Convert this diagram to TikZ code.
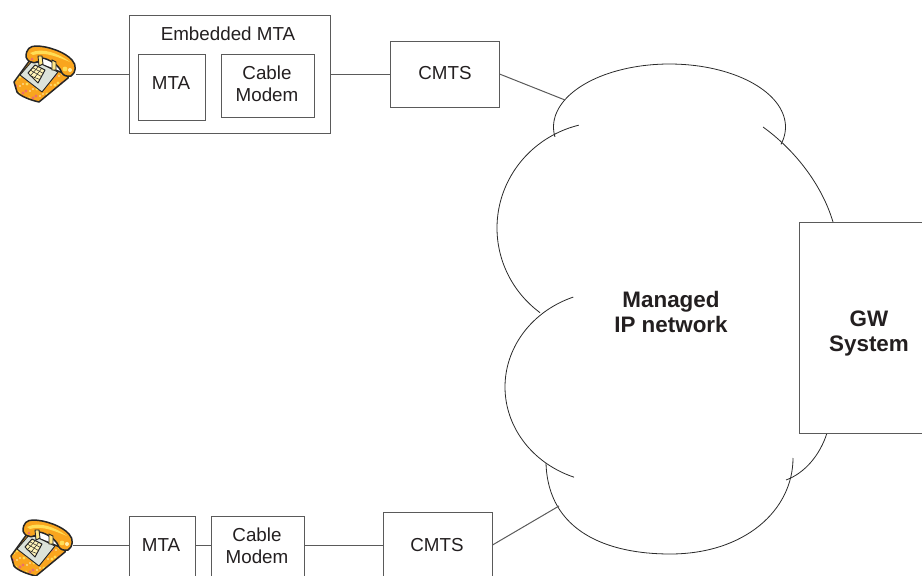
\documentclass[tikz,border=0pt]{standalone}
\usepackage{fontspec}
\setmainfont{Liberation Sans}
\definecolor{edgegray}{HTML}{5A5A5A}
\definecolor{cloudline}{HTML}{2A2A2A}
\definecolor{phoneorange}{HTML}{F9A51E}
\definecolor{phoneyellow}{HTML}{FFDD55}
\definecolor{phonepink}{HTML}{EC6F6A}
\definecolor{phoneplate}{HTML}{DCE3DA}
\definecolor{phonekey}{HTML}{FFF4B8}
\definecolor{inktext}{HTML}{231F20}
\tikzset{
  x=1pt,y=-1pt,
  boxnode/.style={draw=edgegray,line width=1pt,inner sep=0pt,text=inktext,font=\fontsize{18.8}{22}\selectfont,align=center},
  label18/.style={inner sep=0pt,text=inktext,font=\fontsize{18.8}{22}\selectfont,align=center},
  boldlabel/.style={inner sep=0pt,text=inktext,font=\fontsize{22.4}{25}\selectfont\bfseries,align=center},
  wire/.style={draw=edgegray,line width=1pt},
  cloudarc/.style={draw=cloudline,line width=0.8pt},
  phoneink/.style={draw=black!85,line width=1.5pt,line join=round},
  telephone/.pic={
    % base
    \path[fill=phoneorange] (14,82) -- (30,60) -- (68,75) -- (68,78) -- (39,102) .. controls (30,100) and (20,96) .. (17,92) -- cycle;
    \begin{scope}
      \clip (14,82) -- (30,60) -- (68,75) -- (68,78) -- (39,102) -- (17,92) -- cycle;
      \foreach \i in {1,...,90}{
        \pgfmathsetmacro{\px}{12+mod(\i*23,59)}
        \pgfmathsetmacro{\py}{58+mod(\i*17,46)}
        \pgfmathtruncatemacro{\k}{mod(\i,3)}
        \ifnum\k=0 \fill[phonepink] (\px,\py) circle (1.6);\fi
        \ifnum\k=1 \fill[phoneyellow] (\px,\py) circle (1.7);\fi
        \ifnum\k=2 \fill[white!60!phoneyellow] (\px,\py) circle (0.9);\fi
      }
    \end{scope}
    \path[phoneink] (14,82) -- (30,60) -- (68,75) -- (68,78) -- (39,102) .. controls (30,100) and (20,96) .. (17,92) -- cycle;
    % plate
    \path[draw=black!85,line width=0.9pt,line join=round,fill=phoneplate] (20,75) -- (33,60) -- (58,72) -- (42,92) -- cycle;
    % keypad
    \path[draw=black!85,line width=1pt,line join=round,fill=phonekey] (28,73) -- (35,65) -- (45,70) -- (38,83) -- cycle;
    \draw[black!85,line width=0.5pt] (30.5,70.2) -- (41.5,76.6) (32.7,67.7) -- (43.2,73.3) (29.5,75.5) -- (39.8,79.5);
    \draw[black!85,line width=0.5pt] (31,75) -- (38.3,66.7) (34.3,78) -- (41.7,68.3);
    % handset
    \path[phoneink,fill=phoneorange] (26,57) .. controls (26,49) and (30,46) .. (36,46)
      .. controls (48,46) and (65,52) .. (72,60)
      .. controls (77,65) and (76,73) .. (71,76)
      .. controls (66,77) and (62,75) .. (61,71)
      .. controls (59,66) and (50,59) .. (42,58)
      .. controls (39,64) and (29,65) .. (26,57) -- cycle;
    \fill[phoneyellow] (30,53) .. controls (42,47) and (58,53) .. (70,62) .. controls (60,58) and (45,51) .. (33,55) -- cycle;
    \fill[phoneyellow] (65,69) circle (2.4);
    \fill[white!50!phoneyellow] (70,70) circle (2);
    \fill[phonepink] (32,59) circle (1.5);
    % cradle posts
    \path[draw=black!85,line width=0.9pt,fill=white!30!phoneyellow] (38,56) -- (42,56) -- (43,64) -- (39,66) -- cycle;
    \path[draw=black!85,line width=0.9pt,fill=white!30!phoneyellow] (52,60) -- (56,62) -- (56,70) -- (52,70) -- cycle;
  }
}
\begin{document}
\begin{tikzpicture}
\useasboundingbox (0,0) rectangle (922,576);
\clip (0,0) rectangle (922,576);

% cloud outline arcs
\draw[cloudarc] plot[domain=171:376,samples=80] ({669.5+116*cos(\x)},{127+63*sin(\x)});
\draw[cloudarc] (763,127) .. controls (795,150) and (822,185) .. (833,222);
\draw[cloudarc] plot[domain=256:127,samples=70] ({605+108*cos(\x)},{228+106*sin(\x)});
\draw[cloudarc] plot[domain=249.5:110,samples=70] ({610+105*cos(\x)},{387+96*sin(\x)});
\draw[cloudarc] (546,463) .. controls (548,532) and (608,554) .. (670,554) .. controls (745,554) and (793,510) .. (793,458);
\draw[cloudarc] (827,433) .. controls (820,455) and (805,473) .. (786,480);

% cloud connection points and phone ports
\coordinate (cloudtop) at (565,100);
\coordinate (cloudbot) at (559,506);
\coordinate (phoneA) at (76,74);
\coordinate (phoneB) at (73,545);

% top row
\node[boxnode,minimum width=201,minimum height=118] (emta) at (229.5,74) {};
\node[label18] (emtalabel) at (228,34) {Embedded MTA};
\node[boxnode,minimum width=67,minimum height=66] (mtaA) at (171.5,87) {};
\node[label18] (mtaAlabel) at (171,83) {MTA};
\node[boxnode,minimum width=93,minimum height=63] (cmA) at (267.5,85.5) {};
\node[label18] (cmAlabel) at (267,84) {Cable\\Modem};
\node[boxnode,minimum width=109,minimum height=66] (cmtsA) at (444.5,74) {};
\node[label18] (cmtsAlabel) at (445,73) {CMTS};

% bottom row
\node[boxnode,minimum width=66,minimum height=80] (mtaB) at (162,556) {};
\node[label18] (mtaBlabel) at (161,545) {MTA};
\node[boxnode,minimum width=93,minimum height=80] (cmB) at (257.5,556) {};
\node[label18] (cmBlabel) at (257,545.5) {Cable\\Modem};
\node[boxnode,minimum width=109,minimum height=84] (cmtsB) at (437.5,554) {};
\node[label18] (cmtsBlabel) at (437,545) {CMTS};

% gateway
\node[boxnode,fill=white,minimum width=140,minimum height=211] (gw) at (869,327.5) {};
\node[boldlabel] (gwlabel) at (869,333.5) {GW\\System};
\node[boldlabel] (iplabel) at (671,311.5) {Managed\\IP network};

% connectors
\draw[wire] (phoneA) -- (emta.west |- phoneA);
\draw[wire] (emta.east) -- (cmtsA.west);
\draw[wire] (cmtsA.east) -- (cloudtop);
\draw[wire] (phoneB) -- (mtaB.west |- phoneB);
\draw[wire] (mtaB.east |- phoneB) -- (cmB.west |- phoneB);
\draw[wire] (cmB.east |- phoneB) -- (cmtsB.west |- phoneB);
\draw[wire] (cmtsB.east |- phoneB) -- (cloudbot);

% telephones
\pic at (0,0) {telephone};
\pic at (-3,474) {telephone};
\end{tikzpicture}
\end{document}
